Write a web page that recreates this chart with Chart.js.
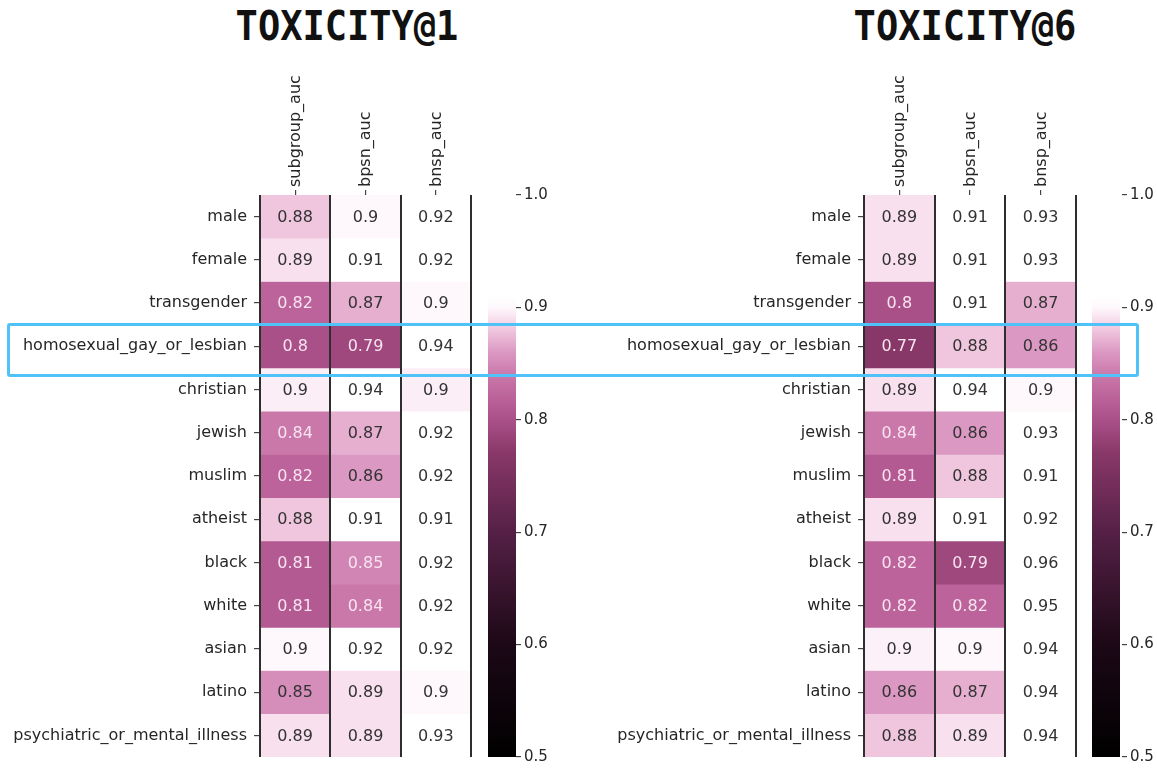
<!DOCTYPE html>
<html>
<head>
<meta charset="utf-8">
<script src="https://cdn.jsdelivr.net/npm/chart.js@4.4.1/dist/chart.umd.min.js"></script>
<style>
  body { margin: 0; background: #fff; width: 1157px; height: 770px; position: relative; overflow: hidden; }
  canvas { position: absolute; top: 0; }
  .title { position: absolute; top: 7px; font: bold 37px "DejaVu Sans Mono"; color: #111;
           transform: translateX(-50%) scaleY(1.12); white-space: nowrap; line-height: 37px; }
  #highlight { position: absolute; left: 7px; top: 323px; width: 1126px; height: 48px;
               border: 3px solid #4fc3f7; border-radius: 3px; }
</style>
</head>
<body>
<div class="title" style="left:347px">TOXICITY@1</div>
<div class="title" style="left:965px">TOXICITY@6</div>
<canvas id="tox1" width="578" height="770" style="left:0"></canvas>
<canvas id="tox6" width="577" height="770" style="left:580px"></canvas>
<div id="highlight"></div>
<script>
const ROWS = ["male", "female", "transgender", "homosexual_gay_or_lesbian", "christian", "jewish",
  "muslim", "atheist", "black", "white", "asian", "latino", "psychiatric_or_mental_illness"]
const METRICS = ["subgroup_auc", "bpsn_auc", "bnsp_auc"]

// TOXICITY@1
const TOX1_SUBGROUP = [0.88, 0.89, 0.82, 0.8, 0.896, 0.84, 0.82, 0.88, 0.81, 0.81, 0.9, 0.853, 0.89]
const TOX1_BPSN = [0.9, 0.91, 0.87, 0.79, 0.94, 0.87, 0.86, 0.91, 0.848, 0.84, 0.92, 0.89, 0.89]
const TOX1_BNSP = [0.92, 0.92, 0.9, 0.94, 0.896, 0.92, 0.92, 0.91, 0.92, 0.92, 0.92, 0.9, 0.93]

// TOXICITY@6
const TOX6_SUBGROUP = [0.89, 0.89, 0.8, 0.77, 0.89, 0.84, 0.81, 0.89, 0.82, 0.82, 0.897, 0.86, 0.88]
const TOX6_BPSN = [0.91, 0.91, 0.91, 0.88, 0.94, 0.86, 0.88, 0.91, 0.79, 0.82, 0.9, 0.87, 0.89]
const TOX6_BNSP = [0.93, 0.93, 0.87, 0.86, 0.9, 0.93, 0.91, 0.92, 0.96, 0.95, 0.94, 0.94, 0.94]

const CBAR_MIN = 0.5
const CBAR_MAX = 1.0
const LIGHT_TEXT_BELOW = 0.85

// colour map: black -> plum -> pink -> white
const CMAP_STOPS = [
  [0.50, [0, 0, 0]],
  [0.60, [28, 8, 22]],
  [0.70, [85, 32, 70]],
  [0.77, [136, 56, 104]],
  [0.80, [170, 80, 137]],
  [0.82, [187, 99, 154]],
  [0.84, [202, 120, 170]],
  [0.86, [219, 152, 194]],
  [0.88, [240, 198, 222]],
  [0.89, [248, 224, 238]],
  [0.90, [254, 248, 252]],
  [0.91, [255, 255, 255]],
  [1.00, [255, 255, 255]]
]

function cmap(v) {
  if (v <= CMAP_STOPS[0][0]) return `rgb(${CMAP_STOPS[0][1].join(",")})`
  for (let i = 1; i < CMAP_STOPS.length; i++) {
    const [v1, c1] = CMAP_STOPS[i]
    if (v <= v1) {
      const [v0, c0] = CMAP_STOPS[i - 1]
      const t = (v - v0) / (v1 - v0)
      const c = c0.map((a, k) => Math.round(a + (c1[k] - a) * t))
      return `rgb(${c.join(",")})`
    }
  }
  return "rgb(255,255,255)"
}

const fmt = v => String(Number(v.toPrecision(2)))

Chart.defaults.font.family = '"DejaVu Sans"'
Chart.defaults.color = "#262626"

// axis labels at the edges must not shrink the plot area
const noEdgePadding = s => { s.paddingTop = 0; s.paddingBottom = 0 }

const cellLabels = {
  id: "cellLabels",
  afterDatasetsDraw(chart) {
    const ctx = chart.ctx
    ctx.save()
    ctx.font = '16px "DejaVu Sans"'
    ctx.textAlign = "center"
    ctx.textBaseline = "middle"
    chart.data.datasets.forEach((ds, i) => {
      chart.getDatasetMeta(i).data.forEach((bar, j) => {
        const v = ds.values[j]
        const p = bar.getCenterPoint()
        ctx.fillStyle = v < LIGHT_TEXT_BELOW ? "#f8e3f0" : "#333333"
        ctx.fillText(fmt(v), p.x, p.y + 1)
      })
    })
    ctx.restore()
  }
}

const colorBar = {
  id: "colorBar",
  afterDraw(chart, args, opts) {
    const gap = chart.scales.gap
    const cbar = chart.scales.cbar
    const ctx = chart.ctx
    const yTop = cbar.getPixelForValue(CBAR_MAX)
    const yBot = cbar.getPixelForValue(CBAR_MIN)
    const grad = ctx.createLinearGradient(0, yBot, 0, yTop)
    CMAP_STOPS.forEach(([v]) => {
      grad.addColorStop((v - CBAR_MIN) / (CBAR_MAX - CBAR_MIN), cmap(v))
    })
    ctx.save()
    ctx.fillStyle = grad
    ctx.fillRect(gap.left + opts.offset, yTop, opts.width, yBot - yTop)
    ctx.restore()
  }
}

function makeHeatmap(id, columns, layout) {
  const datasets = ROWS.map((row, i) => {
    const values = columns.map(col => col[i])
    return {
      label: row,
      data: METRICS.map(() => 1),
      values: values,
      backgroundColor: values.map(cmap),
      borderWidth: 0,
      barPercentage: 1,
      categoryPercentage: 1,
      xAxisID: "x",
      yAxisID: "y"
    }
  })

  return new Chart(document.getElementById(id), {
    type: "bar",
    data: { labels: METRICS, datasets },
    plugins: [cellLabels, colorBar],
    options: {
      responsive: false,
      devicePixelRatio: 1,
      animation: false,
      events: [],
      layout: { padding: { top: 0, bottom: 13, left: 0, right: layout.padRight } },
      plugins: {
        legend: { display: false },
        tooltip: { enabled: false },
        colorBar: { offset: layout.barOffset, width: layout.barWidth }
      },
      scales: {
        x: {
          type: "category",
          position: "bottom",
          stacked: true,
          offset: true,
          grid: { offset: true, color: "#2e2e2e", lineWidth: 2, drawTicks: false, z: 1 },
          border: { display: false },
          ticks: { display: false },
          afterFit: s => { s.height = 0 }
        },
        xTop: {
          type: "category",
          labels: METRICS,
          position: "top",
          offset: true,
          grid: { offset: false, drawOnChartArea: false, tickLength: 5, color: "#444", lineWidth: 1.2 },
          border: { display: false },
          ticks: { minRotation: 90, maxRotation: 90, autoSkip: false, padding: 3, labelOffset: 20, font: { size: 16 } },
          afterFit: s => { s.height = 195 }
        },
        y: {
          stacked: true,
          min: 0,
          max: ROWS.length,
          reverse: true,
          display: false
        },
        yRows: {
          type: "category",
          labels: ROWS,
          position: "left",
          offset: true,
          grid: { offset: false, drawOnChartArea: false, tickLength: 6, color: "#444", lineWidth: 1.2 },
          border: { display: false },
          ticks: { autoSkip: false, padding: 7, font: { size: 16 } },
          afterFit: s => { s.width = layout.left; noEdgePadding(s) }
        },
        gap: {
          type: "linear",
          position: "right",
          weight: 0,
          grid: { display: false },
          border: { display: false },
          ticks: { display: false },
          afterFit: s => { s.width = layout.gap; noEdgePadding(s) }
        },
        cbar: {
          type: "linear",
          position: "right",
          weight: 1,
          min: CBAR_MIN,
          max: CBAR_MAX,
          grid: { drawOnChartArea: false, tickLength: 5, color: "#444", lineWidth: 1.2 },
          border: { display: false },
          ticks: { stepSize: 0.1, padding: 3, font: { size: 15 }, callback: v => v.toFixed(1) },
          afterFit: s => { s.width = layout.cbarWidth; noEdgePadding(s) }
        }
      }
    }
  })
}

makeHeatmap("tox1", [TOX1_SUBGROUP, TOX1_BPSN, TOX1_BNSP],
  { left: 260, gap: 45, barOffset: 17, barWidth: 28, cbarWidth: 50, padRight: 12 })
makeHeatmap("tox6", [TOX6_SUBGROUP, TOX6_BPSN, TOX6_BNSP],
  { left: 284, gap: 46, barOffset: 16, barWidth: 28, cbarWidth: 35, padRight: 0 })
</script>
</body>
</html>
